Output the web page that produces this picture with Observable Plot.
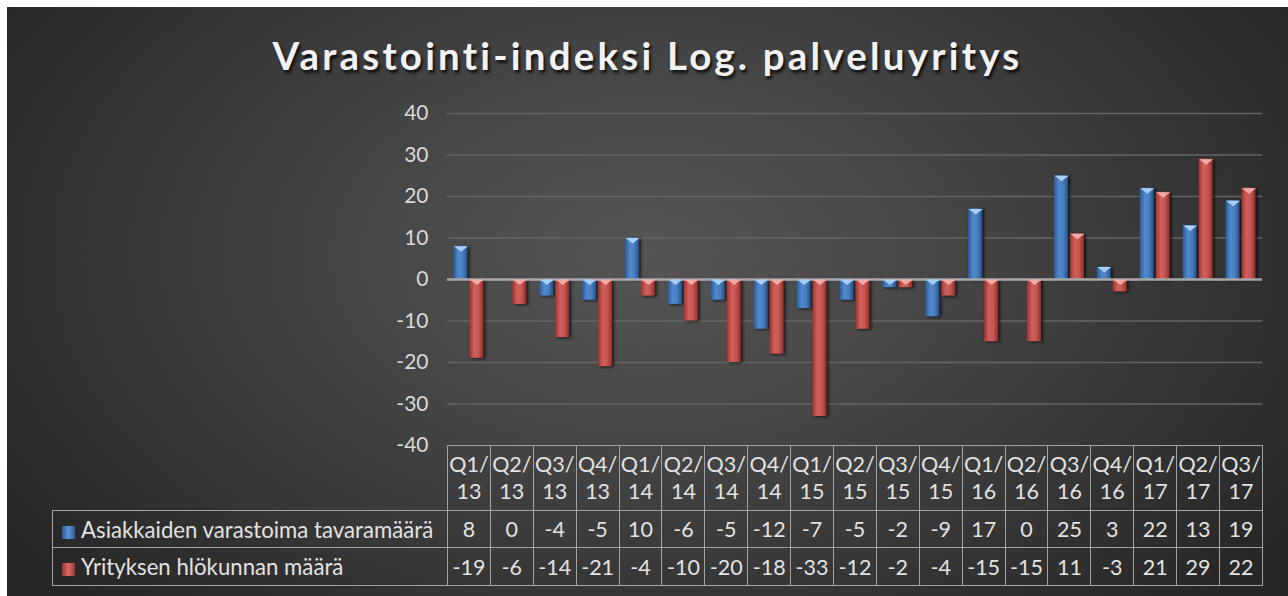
<!DOCTYPE html>
<html><head><meta charset="utf-8">
<script src="https://cdn.jsdelivr.net/npm/d3@7"></script>
<script src="https://cdn.jsdelivr.net/npm/@observablehq/plot@0.6"></script>
<style>
body{margin:0;background:#fff;}
#chart{position:absolute;left:7px;top:7px;width:1281px;height:589px;overflow:hidden;
  background: radial-gradient(ellipse 62% 85% at 50% 42%, #555555 0%, #474747 35%, #353535 70%, #262626 100%);
  font-family: Lato, "Open Sans", sans-serif;}
#title{position:absolute;left:0;width:1281px;top:25px;line-height:46px;text-align:center;color:#f2f2f2;
  font-weight:bold;font-size:38.5px;letter-spacing:3.2px;text-shadow:2px 3px 3px rgba(0,0,0,0.75);}
#plot{position:absolute;left:0;top:0;}
#tbl{position:absolute;left:45px;top:438px;border-collapse:collapse;table-layout:fixed;width:1210px;
  color:#e2e2e2;font-size:21.5px;}
#tbl td{border:1.5px solid #a3a3a3;text-align:center;padding:0;white-space:nowrap;overflow:hidden;}
#tbl td.lab{text-align:left;padding-left:9px;font-size:22.2px;}
#tbl td.corner{border-top:none;border-left:none;}
.key{display:inline-block;width:13px;height:13px;margin-right:6px;vertical-align:-1px;}
</style></head>
<body>
<div id="chart">
  <div id="title">Varastointi-indeksi Log. palveluyritys</div>
  <div id="plot"></div>
  <table id="tbl"></table>
</div>
<script>
const categories = ["Q1/13","Q2/13","Q3/13","Q4/13","Q1/14","Q2/14","Q3/14","Q4/14","Q1/15","Q2/15","Q3/15","Q4/15","Q1/16","Q2/16","Q3/16","Q4/16","Q1/17","Q2/17","Q3/17"];
const seriesNames = ["Asiakkaiden varastoima tavaramäärä","Yrityksen hlökunnan määrä"];
const asiakkaat = [8,0,-4,-5,10,-6,-5,-12,-7,-5,-2,-9,17,0,25,3,22,13,19];
const henkilokunta = [-19,-6,-14,-21,-4,-10,-20,-18,-33,-12,-2,-4,-15,-15,11,-3,21,29,22];
const yTicks = [-40,-30,-20,-10,0,10,20,30,40];
const gridTicks = [-30,-20,-10,10,20,30,40];

const blueData = categories.map((c,i)=>({cat:c, v:asiakkaat[i]}));
const redData = categories.map((c,i)=>({cat:c, v:henkilokunta[i]}));

const bevel = {draw(ctx){ ctx.moveTo(-7,0); ctx.lineTo(7,0); ctx.lineTo(0,5.5); ctx.closePath(); }};
const bw = 815/19;
const off = 22.4 - bw/2 + 7; // offset from band centre

const svg = Plot.plot({
  width:1281, height:589,
  marginLeft:440, marginRight:26, marginTop:106, marginBottom:151,
  style:{background:"transparent", fontFamily:"Lato, 'Open Sans', sans-serif", overflow:"visible"},
  x:{type:"band", domain:categories, padding:0, round:false, axis:null},
  y:{domain:[-40,40], axis:null},
  marks:[
    Plot.ruleY(gridTicks, {stroke:"#646464", strokeWidth:1.5}),
    Plot.axisY(yTicks, {tickSize:0, tickPadding:19, fontSize:21, fill:"#d9d9d9", label:null, tickFormat:d=>String(d)}),
    Plot.barY(blueData, {x:"cat", y:"v", fill:"url(#gBlue)", insetLeft:6.5, insetRight:bw-20.5}),
    Plot.barY(redData, {x:"cat", y:"v", fill:"url(#gRed)", insetLeft:22.4, insetRight:bw-36.4}),
    Plot.ruleY([0], {stroke:"#a8a8a8", strokeWidth:2.5}),
    Plot.dot(blueData.filter(d=>d.v!==0), {x:"cat", y:d=>Math.max(d.v,0), symbol:bevel, fill:"#a9cff5", stroke:"none", dx:-off}),
    Plot.dot(redData.filter(d=>d.v!==0), {x:"cat", y:d=>Math.max(d.v,0), symbol:bevel, fill:"#f2aaa6", stroke:"none", dx:off})
  ]
});

const defs = d3.select(svg).insert("defs", ":first-child");
function grad(id, stops){
  const g = defs.append("linearGradient").attr("id", id).attr("x1","0").attr("x2","1").attr("y1","0").attr("y2","0");
  stops.forEach(([o,c])=>g.append("stop").attr("offset",o).attr("stop-color",c));
}
grad("gBlue", [["0%","#2d5c99"],["35%","#5089cc"],["65%","#4a80c2"],["100%","#274f86"]]);
grad("gRed", [["0%","#9c3431"],["35%","#d1605c"],["65%","#c75752"],["100%","#8f2e2b"]]);
d3.select(svg).selectAll("g[aria-label=bar]").style("filter","drop-shadow(2px 1px 1.5px rgba(0,0,0,0.65))");
document.getElementById("plot").appendChild(svg);

// data table
const tbl = d3.select("#tbl");
const cg = tbl.append("colgroup");
cg.append("col").style("width","395px");
categories.forEach(()=>cg.append("col").style("width", (815/19)+"px"));
const hr = tbl.append("tr").style("height","65px");
hr.append("td").attr("class","corner");
categories.forEach(c=>{
  const [q,y] = c.split("/");
  hr.append("td").style("line-height","27px").html(q+"/<br>"+y);
});
const rows = [[seriesNames[0], asiakkaat, "linear-gradient(90deg,#2d5c99,#5a93d6,#2d5c99)"],
              [seriesNames[1], henkilokunta, "linear-gradient(90deg,#9c3431,#d86964,#9c3431)"]];
rows.forEach(([name, vals, bg], k)=>{
  const tr = tbl.append("tr").style("height", k===0 ? "37px" : "38px");
  const td = tr.append("td").attr("class","lab");
  td.append("span").attr("class","key").style("background", bg);
  td.append("span").text(name);
  vals.forEach(v=>tr.append("td").text(v));
});
</script>
</body></html>
